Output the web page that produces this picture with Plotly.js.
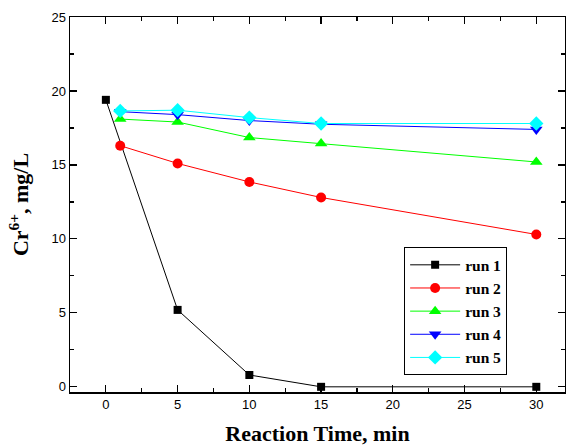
<!DOCTYPE html>
<html>
<head>
<meta charset="utf-8">
<script src="https://cdn.plot.ly/plotly-3.0.1.min.js"></script>
<style>html,body{margin:0;padding:0;background:#fff;}#chart{width:566px;height:448px;}</style>
</head>
<body>
<div id="chart"></div>
<script>
var seriesNames = ["run 1", "run 2", "run 3", "run 4", "run 5"];
var run1X = [0, 5, 10, 15, 30];
var run1Y = [19.4, 5.2, 0.8, 0.0, 0.0];
var run2X = [1, 5, 10, 15, 30];
var run2Y = [16.3, 15.1, 13.85, 12.8, 10.3];
var run3X = [1, 5, 10, 15, 30];
var run3Y = [18.1, 17.9, 16.85, 16.45, 15.2];
var run4X = [1, 5, 10, 15, 30];
var run4Y = [18.6, 18.4, 18.0, 17.75, 17.4];
var run5X = [1, 5, 10, 15, 30];
var run5Y = [18.65, 18.7, 18.2, 17.8, 17.8];
var xTicks = [0, 5, 10, 15, 20, 25, 30];
var yTicks = [0, 5, 10, 15, 20, 25];

var colors = ["#000000", "#ff0000", "#00ff00", "#0000ff", "#00ffff"];
var symbols = ["square", "circle", "triangle-up", "triangle-down", "diamond"];
var sizes = [8, 10, 11, 11, 11];
var xs = [run1X, run2X, run3X, run4X, run5X];
var ys = [run1Y, run2Y, run3Y, run4Y, run5Y];

var data = seriesNames.map(function(n, i) {
  return {
    x: xs[i], y: ys[i], name: n, type: "scatter", mode: "lines+markers",
    line: {color: colors[i], width: 1},
    marker: {color: colors[i], symbol: symbols[i], size: sizes[i]}
  };
});

var axisCommon = {
  showline: true, linecolor: "#000", linewidth: 1.5, mirror: "ticks",
  ticks: "inside", ticklen: 7, tickwidth: 1.2, tickcolor: "#000",
  showgrid: false, zeroline: false,
  tickfont: {family: "Liberation Sans, Arial, sans-serif", size: 13, color: "#000"}
};

var layout = {
  width: 566, height: 448,
  margin: {l: 70, r: 1, t: 17, b: 56},
  paper_bgcolor: "#fff", plot_bgcolor: "#fff",
  showlegend: true,
  legend: {
    x: 0.675, y: 0.386, xanchor: "left", yanchor: "top",
    bordercolor: "#000", borderwidth: 1, bgcolor: "#fff",
    font: {family: "Liberation Serif, Times New Roman, serif", size: 15.5, color: "#000", weight: "bold"},
    tracegroupgap: 0, itemwidth: 50
  },
  xaxis: Object.assign({}, axisCommon, {
    range: [-2.5, 32], tickvals: xTicks,
    minor: {dtick: 2.5, tick0: 0, ticks: "inside", ticklen: 4, tickcolor: "#000", showgrid: false},
    title: {text: "<b>Reaction Time, min</b>", font: {family: "Liberation Serif, Times New Roman, serif", size: 22, color: "#000"}, standoff: 14}
  }),
  yaxis: Object.assign({}, axisCommon, {
    range: [-0.35, 25], tickvals: yTicks,
    minor: {dtick: 2.5, tick0: 0, ticks: "inside", ticklen: 4, tickcolor: "#000", showgrid: false},
    title: {text: "<b>Cr<sup>6+</sup>, mg/L</b>", font: {family: "Liberation Serif, Times New Roman, serif", size: 22, color: "#000"}, standoff: 16}
  })
};

Plotly.newPlot("chart", data, layout, {displayModeBar: false, staticPlot: true});
</script>
</body>
</html>
